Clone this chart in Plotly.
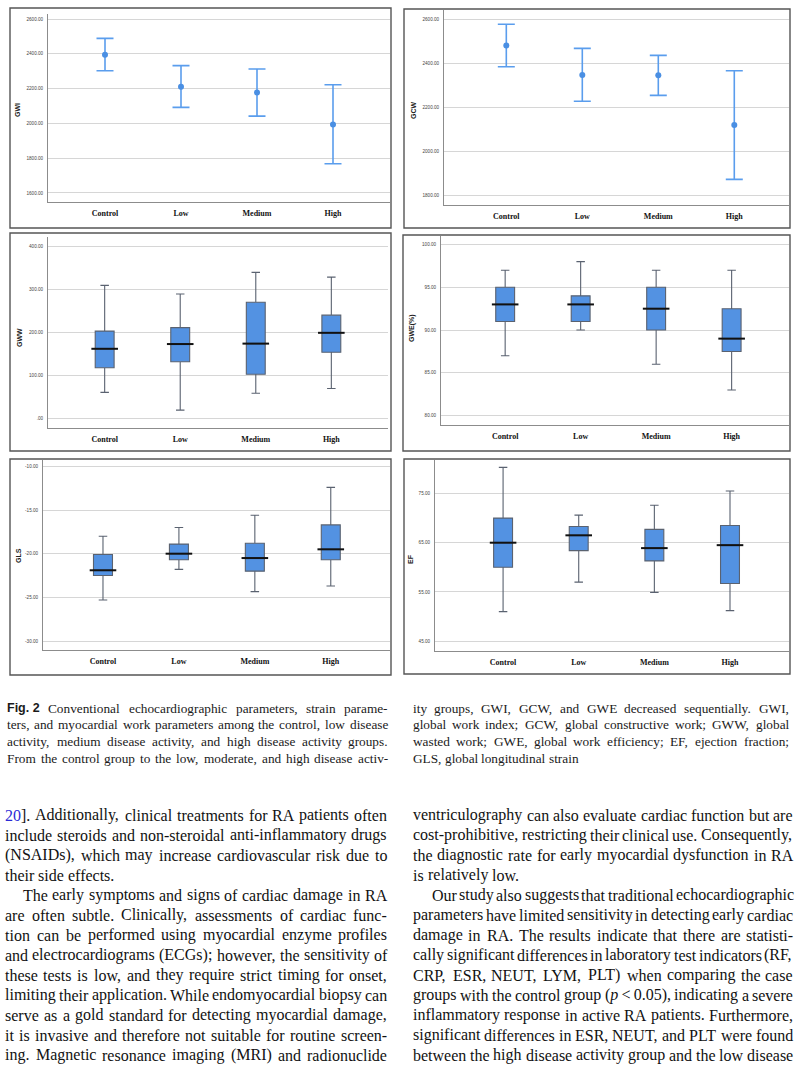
import plotly.graph_objects as go

W, H = 799, 1076

categories = ["Control", "Low", "Medium", "High"]

# GWI: mean with 95% CI
gwi_mean = [2395, 2211, 2178, 1994]
gwi_upper = [2489, 2332, 2313, 2222]
gwi_lower = [2303, 2092, 2042, 1768]

# GCW: mean with 95% CI
gcw_mean = [2483, 2349, 2347, 2121]
gcw_upper = [2580, 2470, 2438, 2368]
gcw_lower = [2386, 2229, 2256, 1873]

# GWW box plot
gww_max = [309, 289, 339, 328]
gww_q3 = [203, 211, 270, 240]
gww_median = [162, 173, 174, 199]
gww_q1 = [118, 132, 103, 154]
gww_min = [61, 20, 59, 70]

# GWE(%) box plot
gwe_max = [97, 98, 97, 97]
gwe_q3 = [95, 94, 95, 92.5]
gwe_median = [93, 93, 92.5, 89]
gwe_q1 = [91, 91, 90, 87.5]
gwe_min = [87, 90, 86, 83]

# GLS box plot
gls_max = [-18.0, -17.0, -15.6, -12.4]
gls_q3 = [-20.1, -18.9, -18.8, -16.7]
gls_median = [-21.9, -20.0, -20.5, -19.5]
gls_q1 = [-22.5, -20.7, -22.0, -20.7]
gls_min = [-25.3, -21.8, -24.35, -23.7]

# EF box plot
ef_max = [80.3, 70.6, 72.6, 75.5]
ef_q3 = [70.0, 68.3, 67.7, 68.5]
ef_median = [65.0, 66.5, 63.9, 64.5]
ef_q1 = [60.0, 63.4, 61.3, 56.7]
ef_min = [51.0, 57.0, 54.9, 51.2]

gwi_ticks = [1600, 1800, 2000, 2200, 2400, 2600]
gcw_ticks = [1800, 2000, 2200, 2400, 2600]
gww_ticks = [0, 100, 200, 300, 400]
gwe_ticks = [80, 85, 90, 95, 100]
gls_ticks = [-30, -25, -20, -15, -10]
ef_ticks = [45, 55, 65, 75]

caption_left = [
    "Fig.\u00a02 Conventional echocardiographic parameters, strain parame-",
    "ters, and myocardial work parameters among the control, low disease",
    "activity, medium disease activity, and high disease activity groups.",
    "From the control group to the low, moderate, and high disease activ-",
]
caption_right = [
    "ity groups, GWI, GCW, and GWE decreased sequentially. GWI,",
    "global work index; GCW, global constructive work; GWW, global",
    "wasted work; GWE, global work efficiency; EF, ejection fraction;",
    "GLS, global longitudinal strain",
]
body_left = [
    "20]. Additionally, clinical treatments for RA patients often",
    "include steroids and non-steroidal anti-inflammatory drugs",
    "(NSAIDs), which may increase cardiovascular risk due to",
    "their side effects.",
    "The early symptoms and signs of cardiac damage in RA",
    "are often subtle. Clinically, assessments of cardiac func-",
    "tion can be performed using myocardial enzyme profiles",
    "and electrocardiograms (ECGs); however, the sensitivity of",
    "these tests is low, and they require strict timing for onset,",
    "limiting their application. While endomyocardial biopsy can",
    "serve as a gold standard for detecting myocardial damage,",
    "it is invasive and therefore not suitable for routine screen-",
    "ing. Magnetic resonance imaging (MRI) and radionuclide",
]
body_right = [
    "ventriculography can also evaluate cardiac function but are",
    "cost-prohibitive, restricting their clinical use. Consequently,",
    "the diagnostic rate for early myocardial dysfunction in RA",
    "is relatively low.",
    "Our study also suggests that traditional echocardiographic",
    "parameters have limited sensitivity in detecting early cardiac",
    "damage in RA. The results indicate that there are statisti-",
    "cally significant differences in laboratory test indicators (RF,",
    "CRP, ESR, NEUT, LYM, PLT) when comparing the case",
    "groups with the control group (p\u2009<\u20090.05), indicating a severe",
    "inflammatory response in active RA patients. Furthermore,",
    "significant differences in ESR, NEUT, and PLT were found",
    "between the high disease activity group and the low disease",
]


def fmt(v):
    s = f"{v:.2f}"
    if s.startswith("0."):
        s = s[1:]
    if s.startswith("-0."):
        s = "-" + s[2:]
    return s


BLUE_PT = "#4a8fe3"
BOX_FILL = "#5392e2"
BOX_LINE = "#5a6270"

panels = [
    dict(title="GWI", plot=(48, 14, 390, 202), yr=[1548, 2629], xr=[-0.75, 3.75],
         frame=(10, 8, 391, 228), tpos=(18, 110), ticks=gwi_ticks),
    dict(title="GCW", plot=(444, 10, 789, 205), yr=[1756, 2645], xr=[-0.82, 3.72],
         frame=(404, 9, 790, 228), tpos=(414, 110), ticks=gcw_ticks),
    dict(title="GWW", plot=(48, 237, 388, 428), yr=[-21.5, 421], xr=[-0.75, 3.75],
         frame=(10, 233, 391, 451), tpos=(19, 338), ticks=gww_ticks),
    dict(title="GWE(%)", plot=(441, 236, 789, 425), yr=[78.9, 101], xr=[-0.85, 3.76],
         frame=(403, 235, 790, 451), tpos=(412, 328), ticks=gwe_ticks),
    dict(title="GLS", plot=(43, 460, 390, 650), yr=[-31.03, -9.27], xr=[-0.79, 3.78],
         frame=(10, 459, 391, 675), tpos=(18, 556), ticks=gls_ticks),
    dict(title="EF", plot=(435, 460, 789, 651), yr=[43.0, 81.8], xr=[-0.9, 3.78],
         frame=(404, 459, 790, 674), tpos=(410, 559), ticks=ef_ticks),
]

fig = go.Figure()
layout = dict(
    width=W, height=H, margin=dict(l=0, r=0, t=0, b=0),
    paper_bgcolor="white", plot_bgcolor="white", showlegend=False,
    shapes=[], annotations=[],
)

for i, p in enumerate(panels):
    n = i + 1
    xa = "xaxis" if n == 1 else f"xaxis{n}"
    ya = "yaxis" if n == 1 else f"yaxis{n}"
    x0, y0, x1, y1 = p["plot"]
    layout[xa] = dict(
        domain=[x0 / W, x1 / W], anchor=f"y{n if n > 1 else ''}",
        type="category", categoryorder="array", categoryarray=categories,
        range=p["xr"], showgrid=False, zeroline=False,
        showline=True, linecolor="#8c8c8c", linewidth=1,
        ticks="", ticklabelstandoff=3,
        tickfont=dict(family="Liberation Serif", size=8, color="#111", weight="bold"),
    )
    layout[ya] = dict(
        domain=[1 - y1 / H, 1 - y0 / H], anchor=f"x{n if n > 1 else ''}",
        range=p["yr"], showgrid=True, gridcolor="#d6d6d6", gridwidth=1.3,
        zeroline=False, showline=True, linecolor="#8c8c8c", linewidth=1,
        tickmode="array", tickvals=p["ticks"], ticktext=[fmt(v) for v in p["ticks"]],
        ticks="", ticklabelstandoff=3,
        tickfont=dict(family="Liberation Sans", size=4.6, color="#444"),
    )
    fx0, fy0, fx1, fy1 = p["frame"]
    layout["shapes"].append(dict(
        type="rect", xref="paper", yref="paper",
        x0=fx0 / W, x1=fx1 / W, y0=1 - fy1 / H, y1=1 - fy0 / H,
        line=dict(color="#555555", width=1.4), fillcolor="rgba(0,0,0,0)", layer="above",
    ))
    tx, ty = p["tpos"]
    layout["annotations"].append(dict(
        text=f"<b>{p['title']}</b>", xref="paper", yref="paper",
        x=tx / W, y=1 - ty / H, xanchor="center", yanchor="middle",
        textangle=-90, showarrow=False,
        font=dict(family="Liberation Sans", size=7, color="#222"),
    ))

axis_refs = [("x", "y")] + [(f"x{n}", f"y{n}") for n in range(2, 7)]


def add_ci(mean, upper, lower, refs):
    fig.add_trace(go.Scatter(
        x=categories, y=mean, mode="markers", xaxis=refs[0], yaxis=refs[1],
        marker=dict(size=6, color=BLUE_PT),
        error_y=dict(type="data", symmetric=False,
                     array=[u - m for u, m in zip(upper, mean)],
                     arrayminus=[m - l for m, l in zip(mean, lower)],
                     color="#5a9ded", thickness=1.6, width=8.5),
        hoverinfo="skip",
    ))


def add_box(mx, q3, med, q1, mn, refs):
    fig.add_trace(go.Box(
        x=categories, q1=q1, median=med, q3=q3, lowerfence=mn, upperfence=mx,
        xaxis=refs[0], yaxis=refs[1], fillcolor=BOX_FILL,
        line=dict(color=BOX_LINE, width=1.1), width=0.25, whiskerwidth=0.45,
        boxpoints=False, hoverinfo="skip",
    ))
    fig.add_trace(go.Scatter(
        x=categories, y=med, mode="markers", xaxis=refs[0], yaxis=refs[1],
        marker=dict(symbol="line-ew", size=19, line=dict(color="#111", width=2)),
        hoverinfo="skip",
    ))


add_ci(gwi_mean, gwi_upper, gwi_lower, axis_refs[0])
add_ci(gcw_mean, gcw_upper, gcw_lower, axis_refs[1])
add_box(gww_max, gww_q3, gww_median, gww_q1, gww_min, axis_refs[2])
add_box(gwe_max, gwe_q3, gwe_median, gwe_q1, gwe_min, axis_refs[3])
add_box(gls_max, gls_q3, gls_median, gls_q1, gls_min, axis_refs[4])
add_box(ef_max, ef_q3, ef_median, ef_q1, ef_min, axis_refs[5])

# ---- justified text set word by word (Times metrics, per 1000 em) ----
TIMES = {
    " ": 250, "a": 444, "b": 500, "c": 444, "d": 500, "e": 444, "f": 333, "g": 500,
    "h": 500, "i": 278, "j": 278, "k": 500, "l": 278, "m": 778, "n": 500, "o": 500,
    "p": 500, "q": 500, "r": 333, "s": 389, "t": 278, "u": 500, "v": 500, "w": 722,
    "x": 500, "y": 500, "z": 444,
    "A": 722, "B": 667, "C": 667, "D": 722, "E": 611, "F": 556, "G": 722, "H": 722,
    "I": 333, "J": 389, "K": 722, "L": 611, "M": 889, "N": 722, "O": 722, "P": 556,
    "Q": 722, "R": 667, "S": 556, "T": 611, "U": 722, "V": 722, "W": 944, "X": 722,
    "Y": 722, "Z": 611,
    ",": 250, ".": 250, ";": 278, ":": 278, "(": 333, ")": 333, "-": 333, "]": 333,
    "[": 333, "<": 564, "%": 833, "\u2009": 200,
}
SANS_BOLD = {"F": 611, "i": 278, "g": 611, ".": 278, "2": 556, "\u00a0": 278}
MARKUP = {
    "20].": "<span style='color:#2b2bd6'>20</span>].",
    "(p\u2009<\u20090.05),": "(<i>p</i>\u2009<\u20090.05),",
}
SPECIAL_FONT = {"Fig.\u00a02"}


def word_width(tok, size, special):
    table = SANS_BOLD if special else TIMES
    return sum(table.get(ch, 500) for ch in tok) / 1000.0 * size


def place_line(line, x_left, x_right, y, size, justify, color="#111"):
    toks = line.split(" ")
    fonts = []
    widths = []
    for t in toks:
        special = t in SPECIAL_FONT
        fsize = size * 0.94 if special else size
        fonts.append((special, fsize))
        widths.append(word_width(t, fsize, special))
    if justify and len(toks) > 1:
        gap = (x_right - x_left - sum(widths)) / (len(toks) - 1)
        gap = max(gap, 0.16 * size)
    else:
        gap = 0.25 * size
    x = x_left
    for t, w, (special, fsize) in zip(toks, widths, fonts):
        txt = MARKUP.get(t, t)
        if special:
            txt = f"<b>{t}</b>"
            fam = "Liberation Sans"
        else:
            fam = "Liberation Serif"
        layout["annotations"].append(dict(
            text=txt, xref="paper", yref="paper", x=x / W, y=1 - y / H,
            xanchor="left", yanchor="middle", showarrow=False, align="left",
            borderpad=0, borderwidth=0,
            font=dict(family=fam, size=fsize, color=color),
        ))
        x += w + gap


# caption
CAP_SIZE = 13.3
cap_y0, cap_dy = 708, 16.7
for j, line in enumerate(caption_left):
    place_line(line, 7, 388, cap_y0 + j * cap_dy, CAP_SIZE, True, "#1a1a1a")
for j, line in enumerate(caption_right):
    place_line(line, 413, 789, cap_y0 + j * cap_dy, CAP_SIZE, j < 3, "#1a1a1a")

# body text
BODY_SIZE = 16
body_y0, body_dy = 815, 20
for j, line in enumerate(body_left):
    xl = 22.5 if j == 4 else 5
    place_line(line, xl, 387, body_y0 + j * body_dy, BODY_SIZE, j != 3)
for j, line in enumerate(body_right):
    xl = 431.5 if j == 4 else 413
    place_line(line, xl, 793, body_y0 + j * body_dy, BODY_SIZE, j != 3)

fig.update_layout(**layout)
fig.write_html("out.html", config={"displayModeBar": False},
               post_script="document.body.style.margin='0';")
